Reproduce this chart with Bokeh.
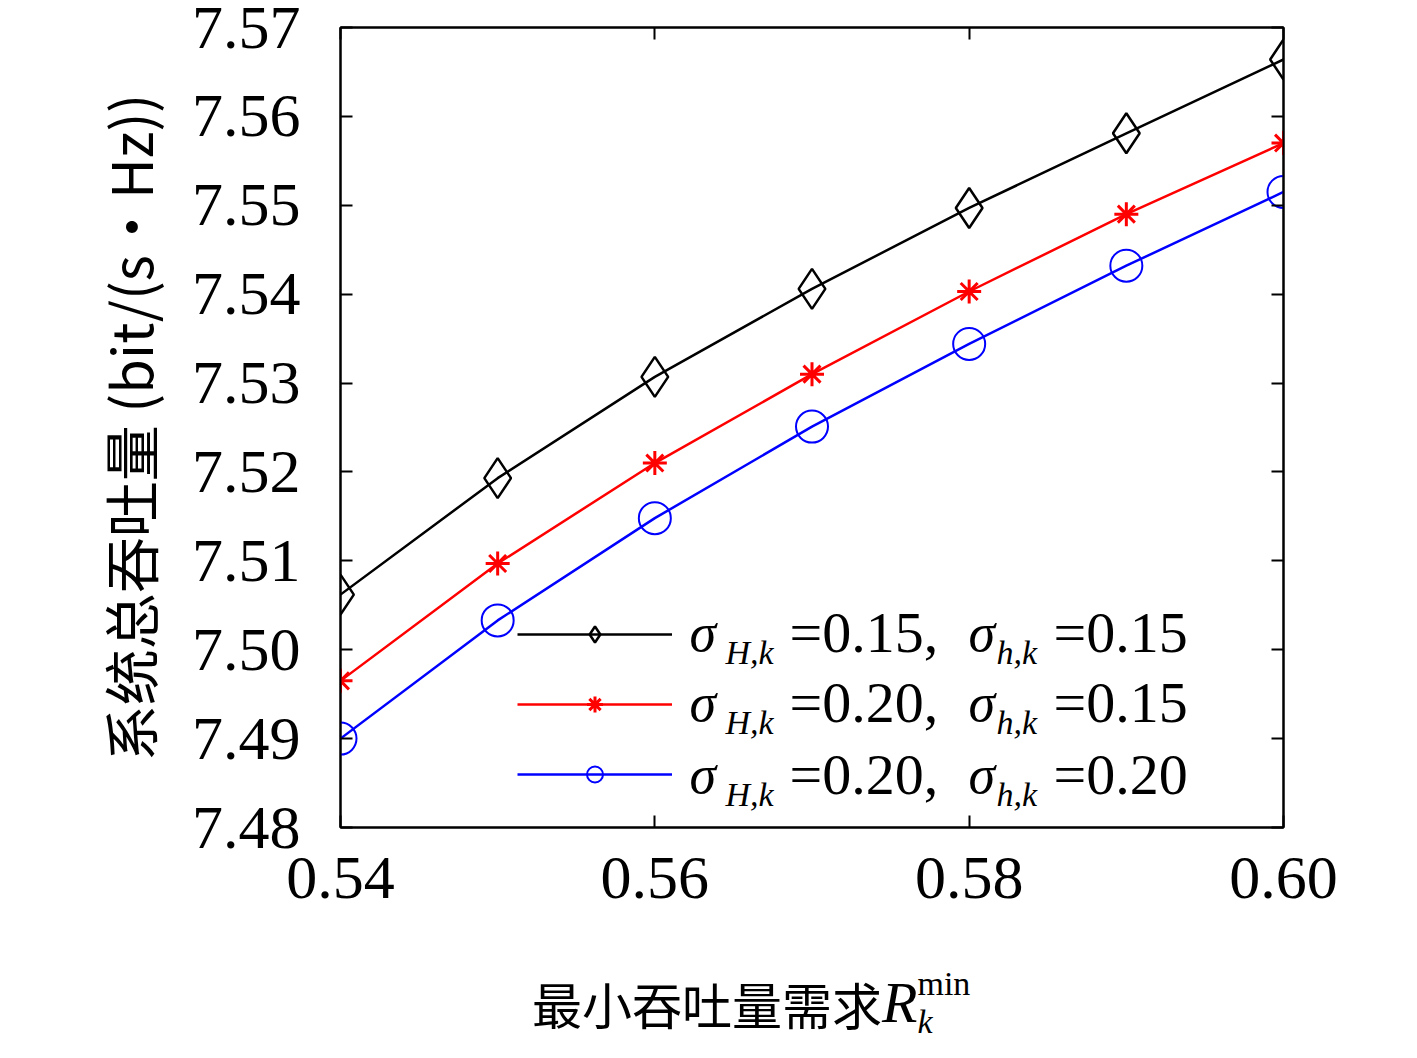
from bokeh.plotting import figure
from bokeh.models import (Range1d, FixedTicker, NumeralTickFormatter, LinearAxis, Label,
                          Legend, LegendItem, Div)
from bokeh.layouts import column
from bokeh.embed import file_html
from bokeh.resources import INLINE

x = [0.54, 0.55, 0.56, 0.57, 0.58, 0.59, 0.60]
s1 = [7.5062, 7.5193, 7.5307, 7.5406, 7.5497, 7.5581, 7.5664]
s2 = [7.4965, 7.5097, 7.5210, 7.5310, 7.5403, 7.5490, 7.5570]
s3 = [7.4900, 7.5033, 7.5148, 7.5251, 7.5344, 7.5432, 7.5515]
xticks = [0.54, 0.56, 0.58, 0.60]
yticks = [7.48, 7.49, 7.50, 7.51, 7.52, 7.53, 7.54, 7.55, 7.56, 7.57]
leg_vals = [("0.15", "0.15"), ("0.20", "0.15"), ("0.20", "0.20")]

SERIF = "Liberation Serif"
p = figure(width=1400, height=945, output_backend="svg", toolbar_location=None,
           x_range=Range1d(0.54, 0.60), y_range=Range1d(7.48, 7.57),
           min_border_left=340, min_border_top=27, min_border_right=117, min_border_bottom=118)
p.grid.visible = False
p.outline_line_color = "black"
p.outline_line_width = 2

for ax in [p.xaxis[0], p.yaxis[0]]:
    ax.major_label_text_font = SERIF
    ax.major_label_text_font_size = "62px"
    ax.major_label_text_color = "black"
    ax.major_tick_in = 12
    ax.major_tick_out = 0
    ax.minor_tick_in = 0
    ax.minor_tick_out = 0
    ax.axis_line_width = 2
    ax.major_tick_line_width = 2
p.xaxis.ticker = FixedTicker(ticks=xticks)
p.yaxis.ticker = FixedTicker(ticks=yticks)
p.xaxis.formatter = NumeralTickFormatter(format="0.00")
p.yaxis.formatter = NumeralTickFormatter(format="0.00")
p.xaxis.major_label_standoff = 30
p.yaxis.major_label_standoff = 40
p.yaxis.axis_label = "系统总吞吐量 (bit/(s·Hz))"
p.yaxis.axis_label_text_font = "Noto Sans CJK SC"
p.yaxis.axis_label_text_font_style = "normal"
p.yaxis.axis_label_text_color = "black"
p.yaxis.axis_label_text_font_size = "56px"
p.yaxis.axis_label_standoff = 20

for loc, tk in [("above", xticks), ("right", yticks)]:
    a = LinearAxis(ticker=FixedTicker(ticks=tk), major_label_text_font_size="0px",
                   major_tick_in=12, major_tick_out=0, minor_tick_in=0, minor_tick_out=0,
                   axis_line_width=2, major_tick_line_width=2)
    p.add_layout(a, loc)

l1 = p.line(x, s1, color="black", line_width=2.5)
m1 = p.scatter(x, s1, marker="diamond", size=40, fill_color=None, line_color="black", line_width=2.5)
l2 = p.line(x, s2, color="red", line_width=2.5)
m2 = p.scatter(x, s2, marker="asterisk", size=24, line_color="red", line_width=3)
l3 = p.line(x, s3, color="blue", line_width=2.5)
m3 = p.scatter(x, s3, marker="circle", size=32, fill_color=None, line_color="blue", line_width=2)

legend = Legend(items=[LegendItem(label=" ", renderers=[l1, m1]),
                       LegendItem(label=" ", renderers=[l2, m2]),
                       LegendItem(label=" ", renderers=[l3, m3])],
                location=(177, 33), glyph_width=155, glyph_height=40, spacing=30,
                padding=0, margin=0, border_line_color=None, background_fill_alpha=0,
                label_text_font_size="10px", label_width=1, label_standoff=0)
p.add_layout(legend)

rows_y = [195, 125, 53]
for (a, b), yy in zip(leg_vals, rows_y):
    x0 = 349
    parts = [(0, 0, "σ", "54px", "italic"), (36, -20, "H,k", "34px", "italic"),
             (100, 0, "=" + a + ",", "58px", "normal"), (627 - 348, 0, "σ", "54px", "italic"),
             (655 - 348, -20, "h,k", "34px", "italic"), (712 - 348, 0, "=" + b, "58px", "normal")]
    for dx, dy, t, fs, st in parts:
        p.add_layout(Label(x=x0 + dx, y=yy + dy, x_units="screen", y_units="screen", text=t,
                           text_font=SERIF, text_font_size=fs, text_font_style=st,
                           text_color="black", text_baseline="middle", text_align="left"))

xlabel_cn = "最小吞吐量需求"
div = Div(width=1400, height=100, text=(
    '<div style="padding-left:527px;padding-top:12px;white-space:nowrap;color:black;">'
    '<span style="font-family:\'Noto Sans CJK SC\';font-size:50px;vertical-align:middle;">'
    + xlabel_cn + '</span>'
    '<span style="font-family:\'Liberation Serif\';font-style:italic;font-size:58px;vertical-align:middle;">R</span>'
    '<span style="display:inline-block;vertical-align:middle;line-height:30px;font-family:\'Liberation Serif\';">'
    '<span style="display:block;font-size:34px;">min</span>'
    '<span style="display:block;font-size:34px;font-style:italic;padding-top:8px;">k</span></span>'
    '</div>'))

open("out.html", "w").write(file_html(column(p, div), INLINE))
